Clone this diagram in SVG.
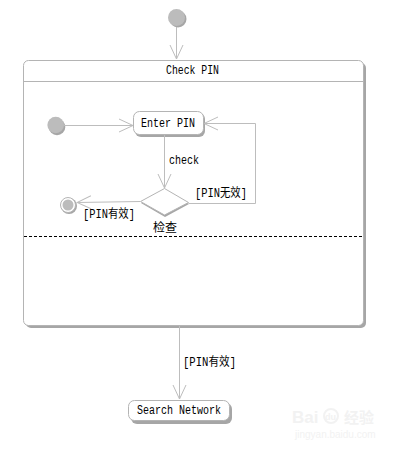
<svg xmlns="http://www.w3.org/2000/svg" width="408" height="453" viewBox="0 0 408 453">
<defs>
<style>
.t{font-family:"Liberation Mono","Noto Sans CJK SC",monospace;font-size:12px;fill:#000}
.c{font-family:"Liberation Mono","Noto Sans CJK SC",monospace;font-size:12px;fill:#000}
.ln{stroke:#bdbdbd;stroke-width:1;fill:none}
.box{fill:#fff;stroke:#b4b4b4;stroke-width:1}
.sh{fill:#a6a6a6}
.init{fill:#bcbcbc}
</style>
<marker id="arr" markerUnits="userSpaceOnUse" viewBox="-15 -8 16 16" refX="0" refY="0" markerWidth="16" markerHeight="16" orient="auto">
<path d="M-14,-6.5 L0,0 L-14,6.5" fill="none" stroke="#bdbdbd" stroke-width="1"/>
</marker>
</defs>
<rect width="408" height="453" fill="#fff"/>

<g id="composite-check-pin">
<rect class="sh" x="26" y="63" width="340" height="265" rx="5"/>
<rect class="box" x="23.5" y="60.5" width="340" height="265" rx="5"/>
<line x1="23.5" y1="81.5" x2="363.5" y2="81.5" stroke="#b4b4b4"/>
<text class="t" x="192.5" y="74" text-anchor="middle" textLength="53" lengthAdjust="spacingAndGlyphs">Check PIN</text>
<line x1="24" y1="236.5" x2="363" y2="236.5" stroke="#000" stroke-dasharray="3,2"/>
</g>

<g id="initial-top">
<circle cx="178" cy="19" r="8.5" fill="#a6a6a6"/>
<circle class="init" cx="176.5" cy="17.5" r="8.5"/>
</g>

<g id="initial-inner">
<circle cx="57" cy="127" r="8.3" fill="#a6a6a6"/>
<circle class="init" cx="55.7" cy="125" r="8.3"/>
</g>

<g id="enter-pin">
<rect class="sh" x="135" y="113" width="70" height="24" rx="6"/>
<rect class="box" x="133.5" y="111.5" width="70" height="23" rx="6"/>
<text class="t" x="168" y="127" text-anchor="middle" textLength="54" lengthAdjust="spacingAndGlyphs">Enter PIN</text>
</g>

<g id="choice-check">
<polygon points="141,203 165,190 189,204 165,217" fill="#a6a6a6"/>
<polygon points="140.5,201.5 164.5,188.5 188.5,202.5 164.5,215" fill="#fff" stroke="#b4b4b4"/>
<text class="c" x="165" y="232" text-anchor="middle">检查</text>
</g>

<g id="final-state">
<circle cx="69" cy="206" r="8" fill="#a6a6a6"/>
<circle cx="68" cy="205" r="7.5" fill="#fff" stroke="#b4b4b4"/>
<circle cx="68" cy="205" r="5.5" fill="#bcbcbc"/>
</g>

<g id="search-network">
<rect class="sh" x="131" y="403" width="101" height="21" rx="6"/>
<rect class="box" x="128.5" y="400.5" width="101" height="20" rx="6"/>
<text class="t" x="179" y="414" text-anchor="middle" textLength="84" lengthAdjust="spacingAndGlyphs">Search Network</text>
</g>

<g id="connectors">
<line class="ln" x1="176.5" y1="27" x2="176.5" y2="59" marker-end="url(#arr)"/>
<line class="ln" x1="64" y1="125.5" x2="133" y2="125.5" marker-end="url(#arr)"/>
<line class="ln" x1="164.5" y1="135" x2="164.5" y2="188" marker-end="url(#arr)"/>
<text class="t" x="169" y="164" textLength="30" lengthAdjust="spacingAndGlyphs">check</text>
<polyline class="ln" points="188.5,203.5 255.5,203.5 255.5,123.5 204,123.5" marker-end="url(#arr)"/>
<text class="c" x="195" y="197" textLength="52" lengthAdjust="spacingAndGlyphs">[PIN无效]</text>
<line class="ln" x1="140" y1="201.5" x2="77" y2="202.5" marker-end="url(#arr)"/>
<text class="c" x="83" y="218" textLength="52" lengthAdjust="spacingAndGlyphs">[PIN有效]</text>
<line class="ln" x1="179.5" y1="326" x2="179.5" y2="399" marker-end="url(#arr)"/>
<text class="c" x="183" y="366" textLength="53" lengthAdjust="spacingAndGlyphs">[PIN有效]</text>
</g>

<g id="watermark" fill="#f2f2f2" font-family="'Liberation Sans','Noto Sans CJK SC',sans-serif">
<text x="292" y="423" font-size="17" font-weight="bold">Bai</text>
<circle cx="331" cy="416" r="7" fill="none" stroke="#f2f2f2" stroke-width="2"/>
<text x="325" y="420" font-size="9" font-weight="bold">du</text>
<text x="344" y="423" font-size="15" font-weight="bold">经验</text>
<text x="295" y="438" font-size="10">jingyan.baidu.com</text>
</g>
</svg>
